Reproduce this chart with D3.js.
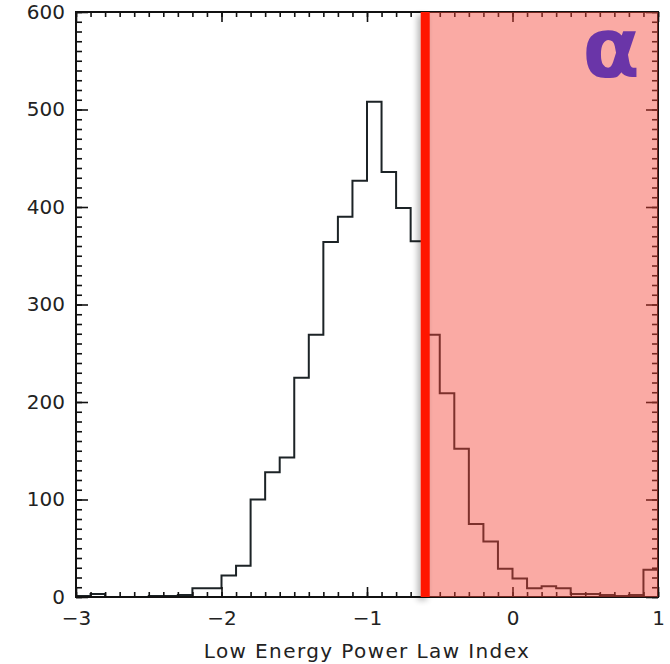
<!DOCTYPE html>
<html>
<head>
<meta charset="utf-8">
<script src="https://cdn.jsdelivr.net/npm/d3@7"></script>
<style>
  body { margin: 0; background: #fff; }
  svg text { font-family: "DejaVu Sans", sans-serif; fill: #222; }
</style>
</head>
<body>
<div id="chart"></div>
<script>
// histogram bins (left edge) and counts
var binStarts = [-3.0,-2.9,-2.8,-2.7,-2.6,-2.5,-2.4,-2.3,-2.2,-2.1,
                 -2.0,-1.9,-1.8,-1.7,-1.6,-1.5,-1.4,-1.3,-1.2,-1.1,
                 -1.0,-0.9,-0.8,-0.7,-0.6,-0.5,-0.4,-0.3,-0.2,-0.1,
                  0.0, 0.1, 0.2, 0.3, 0.4, 0.5, 0.6, 0.7, 0.8, 0.9];
var counts = [1,3,0,0,0,1,1,2,9,9,
              22,32,100,128,143,225,269,364,390,427,
              508,436,399,365,269,209,152,75,57,29,
              19,9,11,9,3,3,2,1,2,28];
var binWidth = 0.1;
var xTicks = [-3,-2,-1,0,1];
var yTicks = [0,100,200,300,400,500,600];
var cutValue = -0.6;

var W = 670, H = 664;
var margin = {top: 12, right: 12, bottom: 67, left: 76};

var svg = d3.select("#chart").append("svg")
    .attr("width", W).attr("height", H);

var x = d3.scaleLinear().domain([-3, 1]).range([margin.left, W - margin.right]);
var y = d3.scaleLinear().domain([0, 600]).range([H - margin.bottom, margin.top]);

var defs = svg.append("defs");
var f = defs.append("filter").attr("id", "shadow")
    .attr("filterUnits", "userSpaceOnUse")
    .attr("x", 0).attr("y", 0).attr("width", W).attr("height", H);
f.append("feGaussianBlur").attr("in", "SourceAlpha").attr("stdDeviation", 3);
f.append("feOffset").attr("dx", -3).attr("dy", 3).attr("result", "off");
f.append("feComponentTransfer").append("feFuncA").attr("type", "linear").attr("slope", 0.3);
var fm = f.append("feMerge");
fm.append("feMergeNode");
fm.append("feMergeNode").attr("in", "SourceGraphic");

// step outline of the histogram
var pts = binStarts.map(function(b, i) { return [b, counts[i]]; });
pts.push([binStarts[binStarts.length - 1] + binWidth, counts[counts.length - 1]]);

var line = d3.line()
    .x(function(d) { return x(d[0]); })
    .y(function(d) { return y(d[1]); })
    .curve(d3.curveStepAfter);

svg.append("path")
    .datum(pts)
    .attr("d", line)
    .attr("fill", "none")
    .attr("stroke", "#1c2326")
    .attr("stroke-width", 2);

// axes: ticks on all four sides, pointing inwards
function addAxis(axisFn, tr, vals, size, labels) {
  var g = svg.append("g")
      .attr("transform", tr)
      .call(axisFn
        .tickValues(vals)
        .tickSize(size)
        .tickPadding(labels ? 14 : 0)
        .tickFormat(labels ? function(d) { return d3.format("")(d).replace("-", "\u2212"); } : ""));
  g.select(".domain").remove();
  g.selectAll("line").attr("stroke", "#111").attr("stroke-width", 1.6);
  return g;
}
var bottomY = y(0), topY = y(600), leftX = x(-3), rightX = x(1);
var xMinor = d3.range(-30, 11).map(function(d) { return d / 10; });
var yMinor = d3.range(0, 61).map(function(d) { return d * 10; });

addAxis(d3.axisBottom(x), "translate(0," + bottomY + ")", xMinor, -5, false);
var xg = addAxis(d3.axisBottom(x), "translate(0," + bottomY + ")", xTicks, -10, true);
addAxis(d3.axisTop(x), "translate(0," + topY + ")", xMinor, -5, false);
addAxis(d3.axisTop(x), "translate(0," + topY + ")", xTicks, -10, false);
addAxis(d3.axisLeft(y), "translate(" + leftX + ",0)", yMinor, -6, false);
var yg = addAxis(d3.axisLeft(y), "translate(" + leftX + ",0)", yTicks, -12, true);
addAxis(d3.axisRight(y), "translate(" + rightX + ",0)", yMinor, -6, false);
addAxis(d3.axisRight(y), "translate(" + rightX + ",0)", yTicks, -12, false);

xg.selectAll("text").attr("font-size", 20).attr("fill", "#222").attr("font-family", "DejaVu Sans");
yg.selectAll("text").attr("font-size", 20).attr("fill", "#222").attr("font-family", "DejaVu Sans")
    .attr("x", -11);

// frame
svg.append("rect")
    .attr("x", leftX).attr("y", topY)
    .attr("width", rightX - leftX).attr("height", bottomY - topY)
    .attr("fill", "none").attr("stroke", "#111").attr("stroke-width", 2);

// shaded region right of the cut
svg.append("rect")
    .attr("x", x(cutValue)).attr("y", topY)
    .attr("width", rightX - x(cutValue)).attr("height", bottomY - topY)
    .attr("fill", "#f44336").attr("fill-opacity", 0.45);

// cut line
svg.append("rect")
    .attr("x", x(cutValue) - 4.5).attr("y", topY)
    .attr("width", 9).attr("height", bottomY - topY)
    .attr("fill", "#ff1500")
    .attr("filter", "url(#shadow)");

// x label
svg.append("text")
    .attr("x", (leftX + rightX) / 2)
    .attr("y", 658)
    .attr("text-anchor", "middle")
    .attr("font-size", 20)
    .attr("letter-spacing", 1.4)
    .text("Low Energy Power Law Index");

// panel letter
svg.append("text")
    .attr("x", 611)
    .attr("y", 77)
    .attr("text-anchor", "middle")
    .attr("font-size", 84)
    .attr("font-weight", "bold")
    .attr("font-family", "Noto Sans")
    .style("fill", "#6a35a8")
    .text("\u03b1");
</script>
</body>
</html>
